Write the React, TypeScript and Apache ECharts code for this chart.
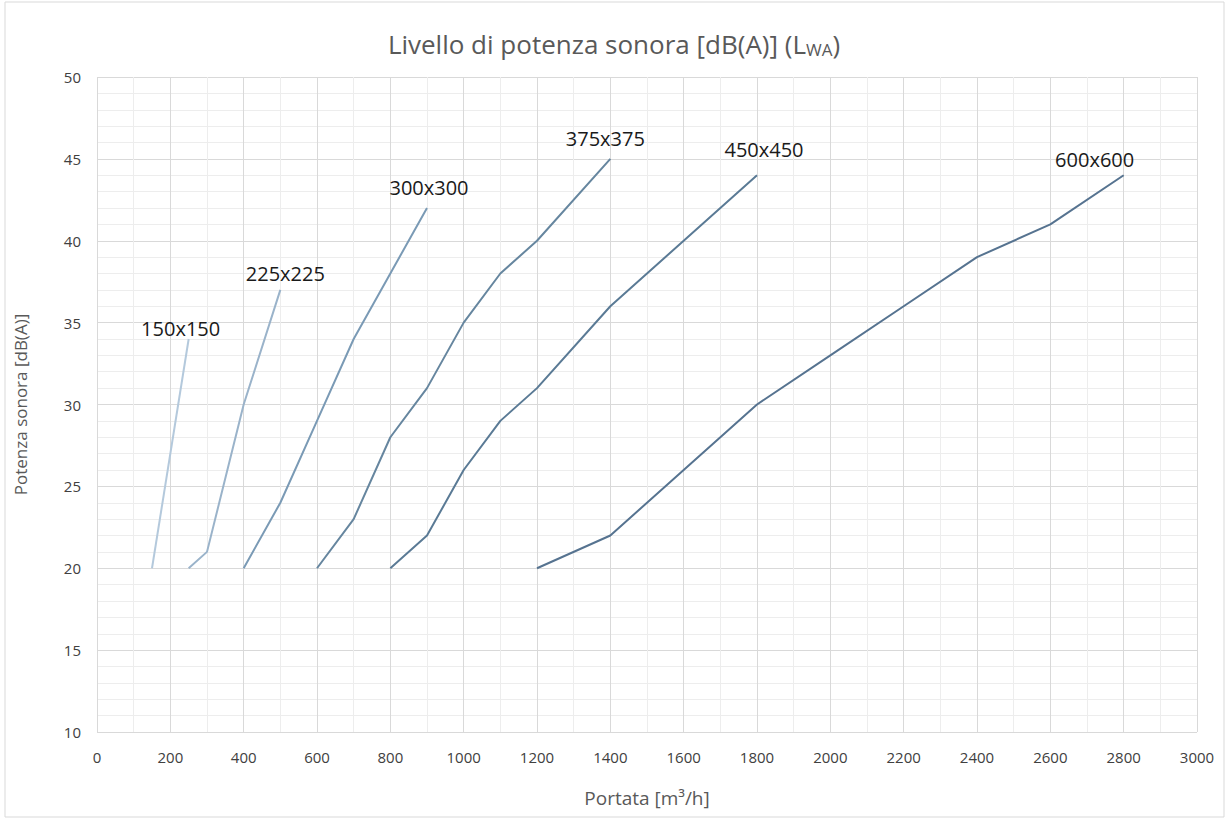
import React, { useEffect, useRef } from "react";
import * as echarts from "echarts";

// ---- data ----
const seriesNames = ["150x150", "225x225", "300x300", "375x375", "450x450", "600x600"];
const s150 = [[150, 20], [250, 34]];
const s225 = [[250, 20], [300, 21], [400, 30], [500, 37]];
const s300 = [[400, 20], [500, 24], [600, 29], [700, 34], [800, 38], [900, 42]];
const s375 = [[600, 20], [700, 23], [800, 28], [900, 31], [1000, 35], [1100, 38], [1200, 40], [1400, 45]];
const s450 = [[800, 20], [900, 22], [1000, 26], [1100, 29], [1200, 31], [1400, 36], [1600, 40], [1800, 44]];
const s600 = [[1200, 20], [1400, 22], [1600, 26], [1800, 30], [2000, 33], [2200, 36], [2400, 39], [2600, 41], [2800, 44]];
const seriesData = [s150, s225, s300, s375, s450, s600];

const xMin = 0, xMax = 3000, xStep = 200;
const yMin = 10, yMax = 50, yStep = 5;

// ---- styles ----
const lineColors = ["#b4c9dc", "#9ab3ca", "#7a9ab5", "#66869f", "#5a7a95", "#567390"];
const labelOffsets = [[-8, -1], [5, -6], [2, -11], [-5, -10], [7, -16], [-29, -6]];
const FONT = "'Open Sans', 'Noto Sans', sans-serif";

export default function App() {
  const ref = useRef<HTMLDivElement>(null);
  useEffect(() => {
    document.body.style.margin = "0";
    const chart = echarts.init(ref.current!, null, { renderer: "svg" });
    const series = seriesData.map((d, i) => ({
      name: seriesNames[i],
      type: "line",
      showSymbol: false,
      symbol: "none",
      lineStyle: { color: lineColors[i], width: 2 },
      endLabel: {
        show: true,
        formatter: seriesNames[i],
        distance: 0,
        align: "center",
        verticalAlign: "bottom",
        offset: labelOffsets[i],
        color: "#1a1a1a",
        fontSize: 20,
        fontFamily: FONT,
      },
      data: d,
    }));
    chart.setOption({
      animation: false,
      backgroundColor: "#ffffff",
      title: {
        text: "Livello di potenza sonora [dB(A)] ({l|L}{s|WA})",
        left: "center",
        top: 25,
        textStyle: {
          fontFamily: FONT,
          fontSize: 26,
          fontWeight: "normal",
          color: "#595959",
          rich: {
            l: { fontFamily: FONT, fontSize: 26, color: "#595959" },
            s: { fontFamily: FONT, fontSize: 17, color: "#595959", padding: [11, 0, 0, 0] },
          },
        },
      },
      grid: { left: 97, right: 31, top: 77, bottom: 87, containLabel: false },
      xAxis: {
        type: "value",
        min: xMin,
        max: xMax,
        interval: xStep,
        name: "Portata [m³/h]",
        nameLocation: "middle",
        nameGap: 56,
        nameTextStyle: { fontFamily: FONT, fontSize: 19, color: "#595959" },
        axisLine: { show: false },
        axisTick: { show: false },
        axisLabel: {
          fontFamily: FONT,
          fontSize: 15,
          color: "#404040",
          margin: 17,
          formatter: (v: number) => String(v),
        },
        splitLine: { show: true, lineStyle: { color: "#d9d9d9", width: 1 } },
        minorTick: { show: false, splitNumber: 2 },
        minorSplitLine: { show: true, lineStyle: { color: "#ededed", width: 1 } },
      },
      yAxis: {
        type: "value",
        min: yMin,
        max: yMax,
        interval: yStep,
        name: "Potenza sonora [dB(A)]",
        nameLocation: "middle",
        nameGap: 68,
        nameTextStyle: { fontFamily: FONT, fontSize: 17, color: "#595959" },
        axisLine: { show: false },
        axisTick: { show: false },
        axisLabel: {
          fontFamily: FONT,
          fontSize: 15,
          color: "#404040",
          margin: 16,
          formatter: (v: number) => String(v),
        },
        splitLine: { show: true, lineStyle: { color: "#d9d9d9", width: 1 } },
        minorTick: { show: false, splitNumber: 5 },
        minorSplitLine: { show: true, lineStyle: { color: "#ededed", width: 1 } },
      },
      graphic: [
        {
          type: "rect",
          shape: { x: 5, y: 2, width: 1219, height: 815 },
          style: { fill: "none", stroke: "#d9d9d9", lineWidth: 1 },
          silent: true,
        },
      ],
      series,
    });
    return () => chart.dispose();
  }, []);
  return <div ref={ref} style={{ width: 1228, height: 819 }} />;
}
